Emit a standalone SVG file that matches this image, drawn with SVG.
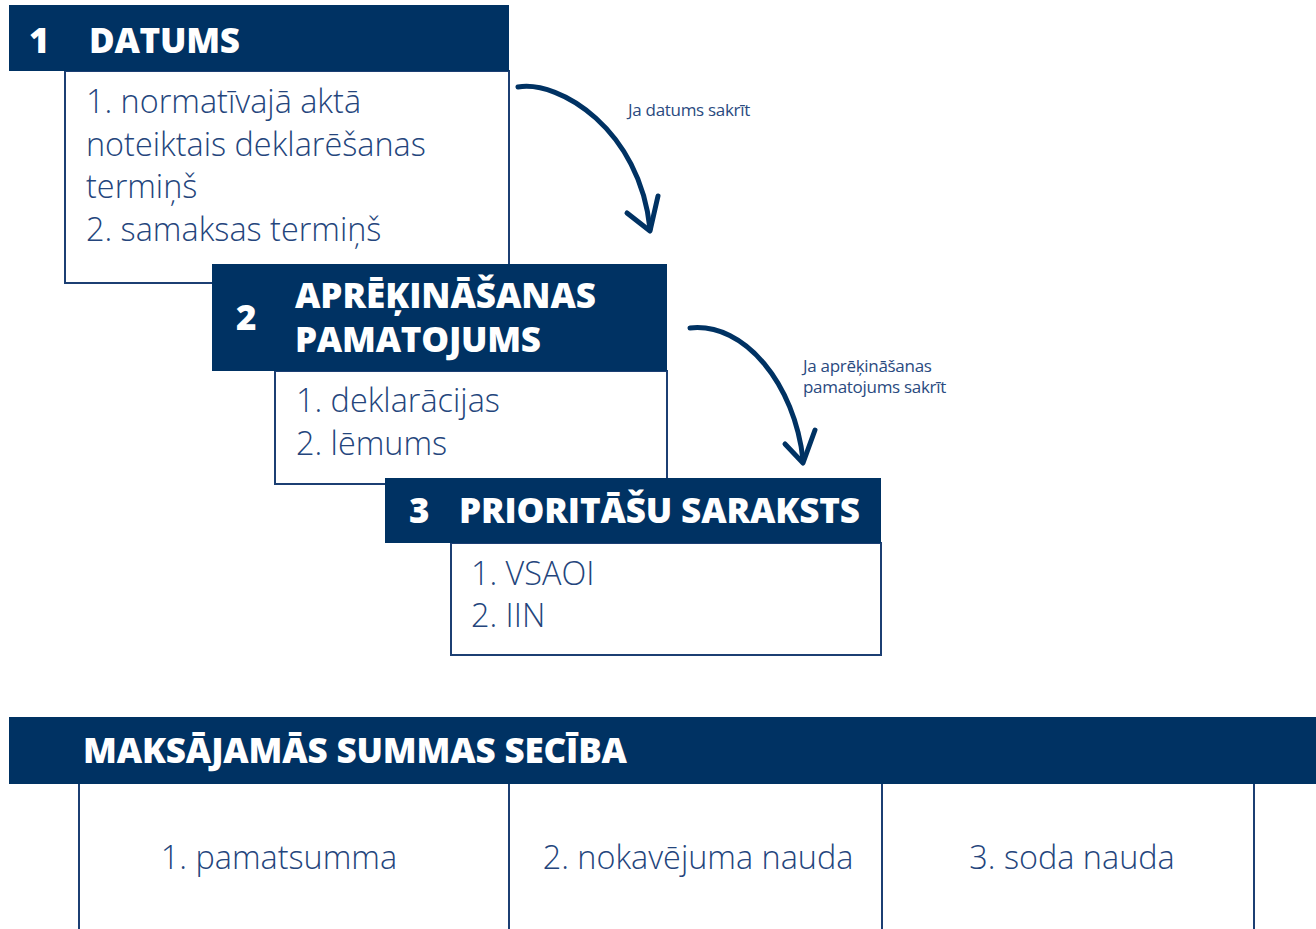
<svg xmlns="http://www.w3.org/2000/svg" width="1316" height="929" viewBox="0 0 1316 929">
<style>
.hdr{fill:#003263}
.body{fill:#ffffff;stroke:#1c3f73;stroke-width:2}
.ht{font-family:"Open Sans","Noto Sans","Liberation Sans",sans-serif;font-weight:800;font-size:35px;fill:#ffffff}
.bt{font-family:"Open Sans","Noto Sans","Liberation Sans",sans-serif;font-weight:300;font-size:32.4px;fill:#24457c}
.lt{font-family:"Open Sans","Noto Sans","Liberation Sans",sans-serif;font-weight:400;font-size:17px;letter-spacing:-0.3px;fill:#2a4a80}
.arr{fill:none;stroke:#003263;stroke-width:5;stroke-linecap:round;stroke-linejoin:round}
.col{stroke:#1c3f73;stroke-width:2}
</style>
<rect width="1316" height="929" fill="#ffffff"/>
<g id="node-datums">
<rect class="body" x="65" y="71" width="444" height="212"/>
<rect class="hdr" x="9" y="5" width="500" height="66"/>
<text class="ht" x="29" y="53">1</text>
<text class="ht" x="89" y="53" textLength="151">DATUMS</text>
<text class="bt" x="86" y="113">1. normatīvajā aktā</text>
<text class="bt" x="86" y="155.5">noteiktais deklarēšanas</text>
<text class="bt" x="86" y="198">termiņš</text>
<text class="bt" x="86" y="240.5">2. samaksas termiņš</text>
</g>
<g id="node-pamatojums">
<rect class="body" x="275" y="371" width="392" height="113"/>
<rect class="hdr" x="212" y="264" width="455" height="107"/>
<text class="ht" x="236" y="330">2</text>
<text class="ht" x="295" y="308" textLength="301">APRĒĶINĀŠANAS</text>
<text class="ht" x="295" y="352" textLength="246">PAMATOJUMS</text>
<text class="bt" x="296" y="412">1. deklarācijas</text>
<text class="bt" x="296" y="455">2. lēmums</text>
</g>
<g id="node-prioritates">
<rect class="body" x="451" y="543" width="430" height="112"/>
<rect class="hdr" x="385" y="478" width="496" height="65"/>
<text class="ht" x="409" y="523">3</text>
<text class="ht" x="459" y="523" textLength="401">PRIORITĀŠU SARAKSTS</text>
<text class="bt" x="471" y="585">1. VSAOI</text>
<text class="bt" x="471" y="627">2. IIN</text>
</g>
<g id="node-seciba">
<rect class="hdr" x="9" y="717" width="1320" height="67"/>
<text class="ht" x="83" y="763" textLength="544">MAKSĀJAMĀS SUMMAS SECĪBA</text>
<line class="col" x1="79" y1="784" x2="79" y2="935"/>
<line class="col" x1="509" y1="784" x2="509" y2="935"/>
<line class="col" x1="882" y1="784" x2="882" y2="935"/>
<line class="col" x1="1254" y1="784" x2="1254" y2="935"/>
<text class="bt" x="279" y="869" text-anchor="middle">1. pamatsumma</text>
<text class="bt" x="698" y="869" text-anchor="middle">2. nokavējuma nauda</text>
<text class="bt" x="1072" y="869" text-anchor="middle">3. soda nauda</text>
</g>
<g id="connectors">
<path class="arr" d="M518,87 C560,80 640,130 650,229"/>
<path class="arr" d="M627,213 L650,231 L658,196"/>
<text class="lt" x="628" y="116">Ja datums sakrīt</text>
<path class="arr" d="M690,328 C745,322 795,385 803,460"/>
<path class="arr" d="M785,444 L803,463 L815,430"/>
<text class="lt" x="803" y="372">Ja aprēķināšanas</text>
<text class="lt" x="803" y="393">pamatojums sakrīt</text>
</g>
</svg>
